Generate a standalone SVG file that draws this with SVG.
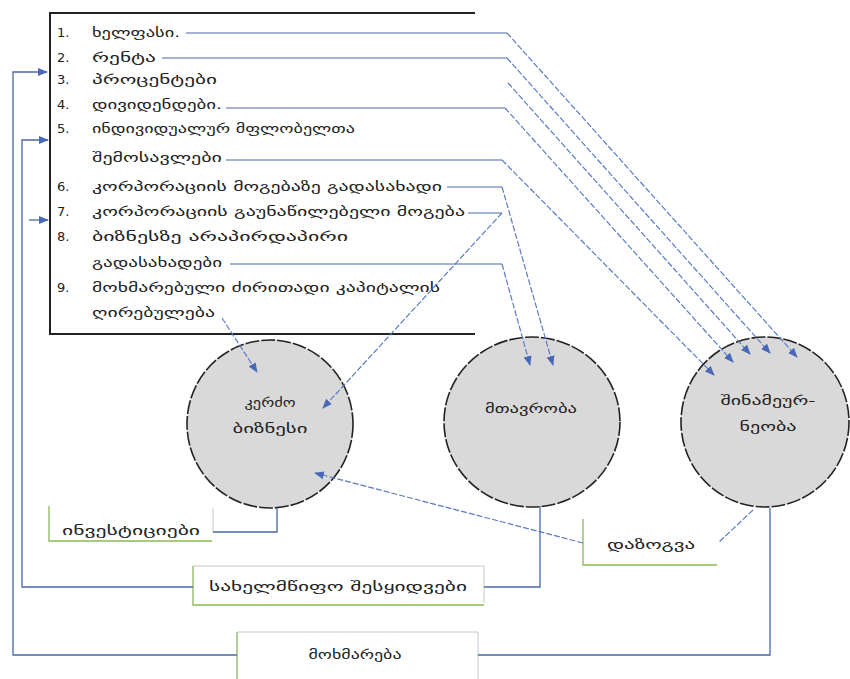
<svg xmlns="http://www.w3.org/2000/svg" width="850" height="679" viewBox="0 0 850 679">
<style>
text{font-family:"DejaVu Sans","Noto Sans",sans-serif;font-size:13px;fill:#222}
.lead{stroke:#4a68a8;stroke-width:1.2;fill:none}
.dash{stroke:#5b7cc4;stroke-width:1.2;fill:none;stroke-dasharray:6 2}
.flow{stroke:#4a68a8;stroke-width:1.3;fill:none}
.circ{fill:#d9d9d9;stroke:#222;stroke-width:1.6;stroke-dasharray:14 2}
.gbox{stroke:#8ab85a;stroke-width:1.3;fill:none}
.gray{stroke:#b8b8b8;stroke-width:0.8;fill:none}
.ctext{text-anchor:middle}
</style>
<defs>
<marker id="ah" viewBox="0 0 10 10" refX="9" refY="5" markerWidth="10" markerHeight="10" markerUnits="userSpaceOnUse" orient="auto">
<path d="M0,1 L10,5 L0,9 z" fill="#4a68b8"/>
</marker>
</defs>
<rect width="850" height="679" fill="#fff"/>

<g id="list">
<path d="M475,13 H50 V334 H475" stroke="#222" stroke-width="2" fill="none"/>
<text x="57" y="37">1.</text><text x="92" y="37" textLength="88" lengthAdjust="spacingAndGlyphs">ხელფასი.</text>
<text x="57" y="62">2.</text><text x="92" y="62" textLength="64" lengthAdjust="spacingAndGlyphs">რენტა</text>
<text x="57" y="84">3.</text><text x="92" y="84" textLength="125" lengthAdjust="spacingAndGlyphs">პროცენტები</text>
<text x="57" y="109">4.</text><text x="92" y="109" textLength="130" lengthAdjust="spacingAndGlyphs">დივიდენდები.</text>
<text x="57" y="133">5.</text><text x="92" y="133" textLength="263" lengthAdjust="spacingAndGlyphs">ინდივიდუალურ მფლობელთა</text>
<text x="92" y="162" textLength="130" lengthAdjust="spacingAndGlyphs">შემოსავლები</text>
<text x="57" y="191">6.</text><text x="92" y="191" textLength="350" lengthAdjust="spacingAndGlyphs">კორპორაციის მოგებაზე გადასახადი</text>
<text x="57" y="216">7.</text><text x="92" y="216" textLength="373" lengthAdjust="spacingAndGlyphs">კორპორაციის გაუნაწილებელი მოგება</text>
<text x="57" y="241">8.</text><text x="92" y="241" textLength="256" lengthAdjust="spacingAndGlyphs">ბიზნესზე არაპირდაპირი</text>
<text x="92" y="267" textLength="130" lengthAdjust="spacingAndGlyphs">გადასახადები</text>
<text x="57" y="292">9.</text><text x="92" y="292" textLength="348" lengthAdjust="spacingAndGlyphs">მოხმარებული ძირითადი კაპიტალის</text>
<text x="92" y="317" textLength="123" lengthAdjust="spacingAndGlyphs">ღირებულება</text>
</g>

<g id="private-business">
<ellipse class="circ" cx="270" cy="424" rx="83" ry="84"/>
<text class="ctext" x="270" y="407" textLength="51" lengthAdjust="spacingAndGlyphs">კერძო</text>
<text class="ctext" x="270" y="433" textLength="75" lengthAdjust="spacingAndGlyphs">ბიზნესი</text>
</g>
<g id="government">
<ellipse class="circ" cx="532" cy="422" rx="88" ry="85"/>
<text class="ctext" x="531" y="413" textLength="92" lengthAdjust="spacingAndGlyphs">მთავრობა</text>
</g>
<g id="households">
<ellipse class="circ" cx="765" cy="422" rx="84" ry="85"/>
<text class="ctext" x="768" y="405" textLength="95" lengthAdjust="spacingAndGlyphs">შინამეურ-</text>
<text class="ctext" x="768" y="431" textLength="57" lengthAdjust="spacingAndGlyphs">ნეობა</text>
</g>

<g id="investments">
<path class="gray" d="M213,508 V532"/>
<path class="gbox" d="M49,506 V541 H212"/>
<text x="131" y="535" text-anchor="middle" textLength="138" lengthAdjust="spacingAndGlyphs">ინვესტიციები</text>
</g>
<g id="gov-purchases">
<path class="gray" d="M193,566 H484 V603"/>
<path class="gbox" d="M193,566 V605 H484"/>
<text x="338" y="591" text-anchor="middle" textLength="258" lengthAdjust="spacingAndGlyphs">სახელმწიფო შესყიდვები</text>
</g>
<g id="savings">
<path class="gbox" d="M583,519 V565 H717"/>
<text x="651" y="549" text-anchor="middle" textLength="88" lengthAdjust="spacingAndGlyphs">დაზოგვა</text>
</g>
<g id="consumption">
<path class="gray" d="M237,632 H478 V679"/>
<path class="gbox" d="M237,632 V679"/>
<text x="355" y="659" text-anchor="middle" textLength="93" lengthAdjust="spacingAndGlyphs">მოხმარება</text>
</g>

<g id="connectors">
<path class="lead" d="M186,33 H507"/>
<path class="lead" d="M162,58 H507"/>
<path class="lead" d="M226,108 H505"/>
<path class="lead" d="M226,160 H502"/>
<path class="lead" d="M447,187 H502"/>
<path class="lead" d="M468,213 H502"/>
<path class="lead" d="M230,264 H502"/>

<path class="dash" d="M507,33 L797,357" marker-end="url(#ah)"/>
<path class="dash" d="M507,58 L770,353" marker-end="url(#ah)"/>
<path class="dash" d="M508,83 L750,354" marker-end="url(#ah)"/>
<path class="dash" d="M505,108 L733,362" marker-end="url(#ah)"/>
<path class="dash" d="M502,160 L714,375" marker-end="url(#ah)"/>
<path class="dash" d="M502,187 L553,365" marker-end="url(#ah)"/>
<path class="dash" d="M502,264 L530,365" marker-end="url(#ah)"/>
<path class="dash" d="M502,213 L323,408" marker-end="url(#ah)"/>
<path class="dash" d="M222,318 L257,372" marker-end="url(#ah)"/>
<path class="dash" d="M753,510 L718,543"/>
<path class="dash" d="M583,543 L315,473" marker-end="url(#ah)"/>

<path class="flow" d="M277,508 V532 H213"/>
<path class="flow" d="M540,506 V587 H484"/>
<path class="flow" d="M193,587 H22 V140 H48" marker-end="url(#ah)"/>
<path class="flow" d="M770,508 V655 H478"/>
<path class="flow" d="M237,655 H13 V72 H47" marker-end="url(#ah)"/>
<path class="flow" d="M29,220 H48" marker-end="url(#ah)"/>
</g>
</svg>
